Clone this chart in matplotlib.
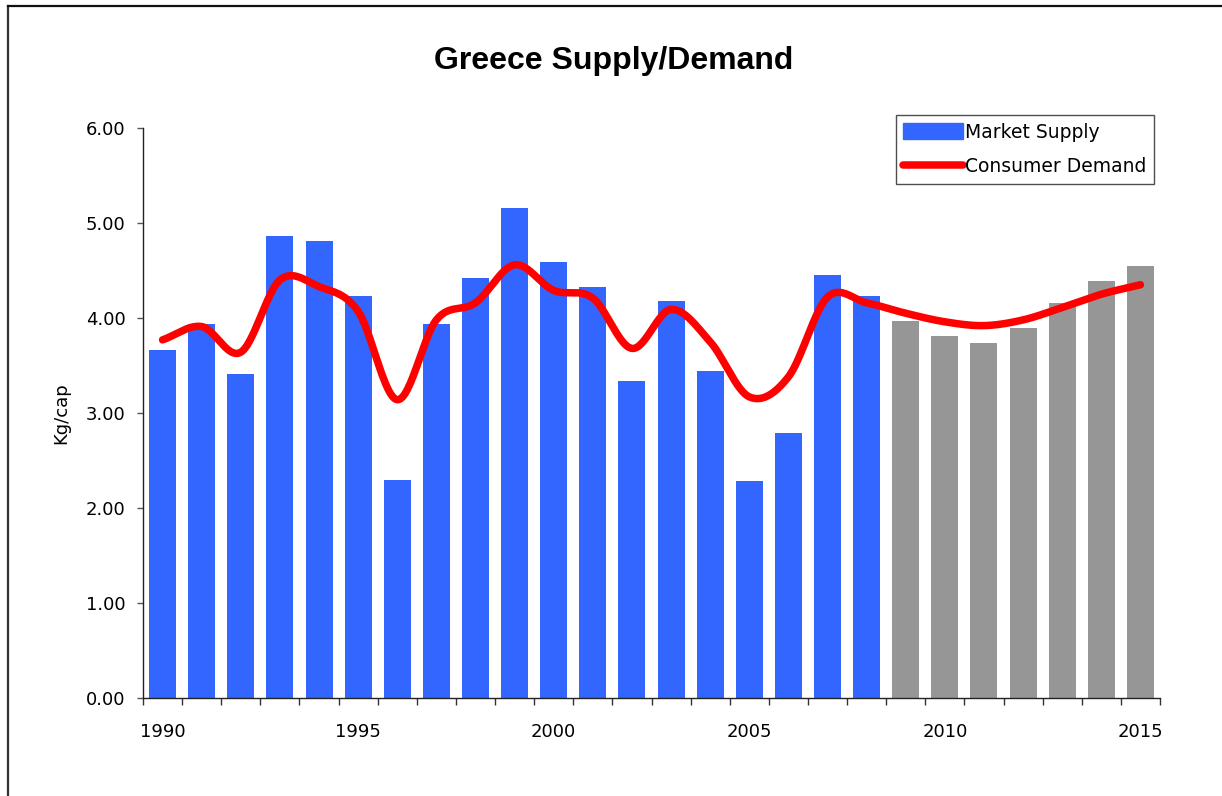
import numpy as np
import matplotlib.pyplot as plt
from matplotlib.lines import Line2D
from matplotlib.patches import Patch

# Data
years = list(range(1990, 2016))
supply = [3.66, 3.94, 3.41, 4.86, 4.81, 4.23, 2.29, 3.94, 4.42, 5.16,
          4.59, 4.33, 3.34, 4.18, 3.44, 2.28, 2.79, 4.45, 4.23,
          3.97, 3.81, 3.74, 3.89, 4.16, 4.39, 4.55]
demand = [3.77, 3.91, 3.64, 4.40, 4.33, 4.07, 3.14, 3.98, 4.16, 4.56,
          4.29, 4.21, 3.68, 4.09, 3.75, 3.17, 3.38, 4.22, 4.16,
          4.05, 3.96, 3.92, 3.98, 4.11, 4.25, 4.35]
last_actual = 2008
tick_years = [1990, 1995, 2000, 2005, 2010, 2015]

BLUE = "#3366FF"
GRAY = "#969696"
RED = "#FF0000"


def smooth(x, y, n=30):
    # Catmull-Rom spline, like Excel's "smoothed line"
    x = np.asarray(x, float)
    y = np.asarray(y, float)
    px = np.concatenate([[2 * x[0] - x[1]], x, [2 * x[-1] - x[-2]]])
    py = np.concatenate([[2 * y[0] - y[1]], y, [2 * y[-1] - y[-2]]])
    xs, ys = [], []
    t = np.linspace(0, 1, n, endpoint=False)
    for i in range(1, len(px) - 2):
        for p, out in ((px, xs), (py, ys)):
            p0, p1, p2, p3 = p[i - 1], p[i], p[i + 1], p[i + 2]
            out.append(0.5 * (2 * p1 + (-p0 + p2) * t
                              + (2 * p0 - 5 * p1 + 4 * p2 - p3) * t ** 2
                              + (-p0 + 3 * p1 - 3 * p2 + p3) * t ** 3))
    xs.append([x[-1]])
    ys.append([y[-1]])
    return np.concatenate(xs), np.concatenate(ys)


fig = plt.figure(figsize=(12.22, 7.96), dpi=100)
ax = fig.add_axes([143 / 1222, 1 - 698 / 796, (1160 - 143) / 1222, (698 - 128) / 796])

colors = [BLUE if y <= last_actual else GRAY for y in years]
ax.bar(years, supply, width=0.69, color=colors, zorder=2)

sx, sy = smooth(years, demand)
ax.plot(sx, sy, color=RED, lw=5.4, solid_capstyle="round", zorder=3)

ax.set_xlim(years[0] - 0.5, years[-1] + 0.5)
ax.set_ylim(0, 6)
ax.set_yticks(np.arange(0, 6.01, 1))
ax.set_yticklabels([f"{v:.2f}" for v in np.arange(0, 6.01, 1)])

# tick marks between categories, labels on category centers
ax.set_xticks(np.arange(years[0] - 0.5, years[-1] + 1, 1))
ax.set_xticklabels([])
ax.set_xticks(tick_years, minor=True)
ax.set_xticklabels([str(y) for y in tick_years], minor=True)
ax.tick_params(axis="x", which="major", length=5, width=1, color="#333333")
ax.tick_params(axis="x", which="minor", length=0, pad=18, labelsize=13)
ax.tick_params(axis="y", length=4.5, width=1, color="#555555", pad=8, labelsize=13)

for s in ["top", "right"]:
    ax.spines[s].set_visible(False)
for s in ["left", "bottom"]:
    ax.spines[s].set_color("#222222")
    ax.spines[s].set_linewidth(1)

ax.set_ylabel("Kg/cap", fontsize=13, labelpad=11)

fig.text(614 / 1222, 1 - 61 / 796, "Greece Supply/Demand", ha="center", va="center",
         fontsize=23, fontweight="bold", family="Liberation Sans")

handles = [Patch(color=BLUE), Line2D([0], [0], color=RED, lw=5.4, solid_capstyle="round")]
leg = ax.legend(handles, ["Market Supply", "Consumer Demand"], loc="upper right",
                bbox_to_anchor=(1154 / 1222, 1 - 115 / 796), bbox_transform=fig.transFigure,
                fontsize=13.5, frameon=True, fancybox=False, edgecolor="#222222",
                handlelength=3.2, handleheight=0.9, handletextpad=0.1, borderpad=0.4,
                labelspacing=0.85, borderaxespad=0)
leg.get_frame().set_linewidth(1)

# outer chart border (left and top edges visible)
fig.add_artist(Line2D([8 / 1222, 8 / 1222], [0, 1 - 6 / 796], color="#333333", lw=1.6))
fig.add_artist(Line2D([8 / 1222, 1], [1 - 6 / 796, 1 - 6 / 796], color="#111111", lw=1.6))

fig.savefig("out.png", dpi=100)
